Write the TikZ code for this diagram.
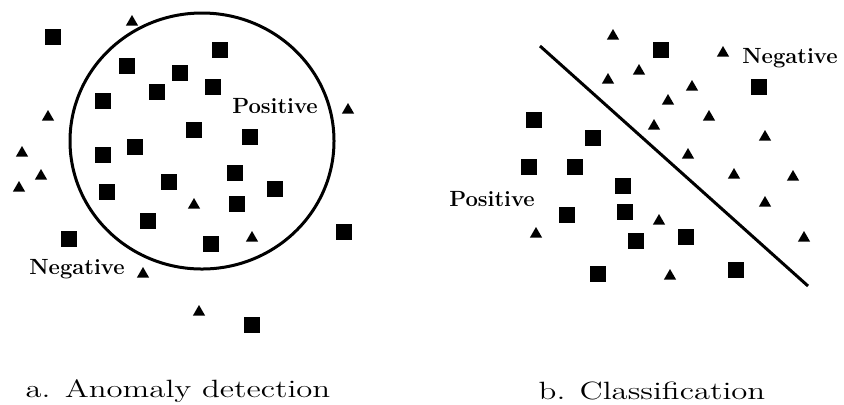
\documentclass[tikz,border=0pt]{standalone}
\usepackage{tikz}
\usetikzlibrary{shapes.geometric}

\begin{document}
\begin{tikzpicture}[
    x=0.5pt, y=-0.5pt,
    every node/.style={inner sep=0pt, outer sep=0pt},
    sq/.style={fill=black,rectangle,minimum size=7.6pt},
    tri/.style={fill=black,regular polygon,regular polygon sides=3,
                minimum size=7pt},
    boundary/.style={draw,ellipse,line width=1.5pt,minimum width=132pt,
                     minimum height=128pt},
    lbl/.style={font=\fontsize{11}{13}\selectfont\bfseries},
    captext/.style={font=\fontsize{12.5}{15}\selectfont,xscale=1.31,
                    transform shape}
]
\useasboundingbox (0,0) rectangle (844,404);

% a. anomaly detection
\node[boundary] (normal) at (202,141) {};
\foreach \x/\y [count=\i] in {53/37, 220/50, 127/66, 180/73, 157/92, 213/87,
    103/101, 194/130, 250/137, 135/147, 103/155, 235/173, 169/182, 107/192,
    275/189, 237/204, 148/221, 69/239, 211/244, 344/232, 252/325}
  \node[sq] (asq\i) at (\x,\y) {};
\foreach \x/\y [count=\i] in {132/22, 348/110, 48/117, 22/153, 41/176,
    19/188, 194/205, 252/238, 143/274, 199/312}
  \node[tri] (atri\i) at (\x,\y) {};
\node[lbl] (apos) at (275,106) {Positive};
\node[lbl] (aneg) at (77,269) {Negative};
\node[captext] (acap) at (178,391) {a. Anomaly detection};

% b. classification
\coordinate (cut1) at (540,46);
\coordinate (cut2) at (808,286);
\draw[line width=1.5pt] (cut1) -- (cut2);
\foreach \x/\y [count=\i] in {661/50, 759/87, 534/120, 593/138, 529/167,
    575/167, 623/186, 567/215, 625/212, 636/241, 686/237, 598/274, 736/270}
  \node[sq] (bsq\i) at (\x,\y) {};
\foreach \x/\y [count=\i] in {613/36, 723/53, 639/71, 608/80, 692/87,
    668/101, 709/117, 654/126, 765/137, 688/155, 734/175, 793/177, 765/203,
    659/221, 536/234, 804/238, 670/276}
  \node[tri] (btri\i) at (\x,\y) {};
\node[lbl] (bneg) at (790,58) {Negative};
\node[lbl] (bpos) at (492,199) {Positive};
\node[captext] (bcap) at (652,391) {b. Classification};
\end{tikzpicture}
\end{document}
